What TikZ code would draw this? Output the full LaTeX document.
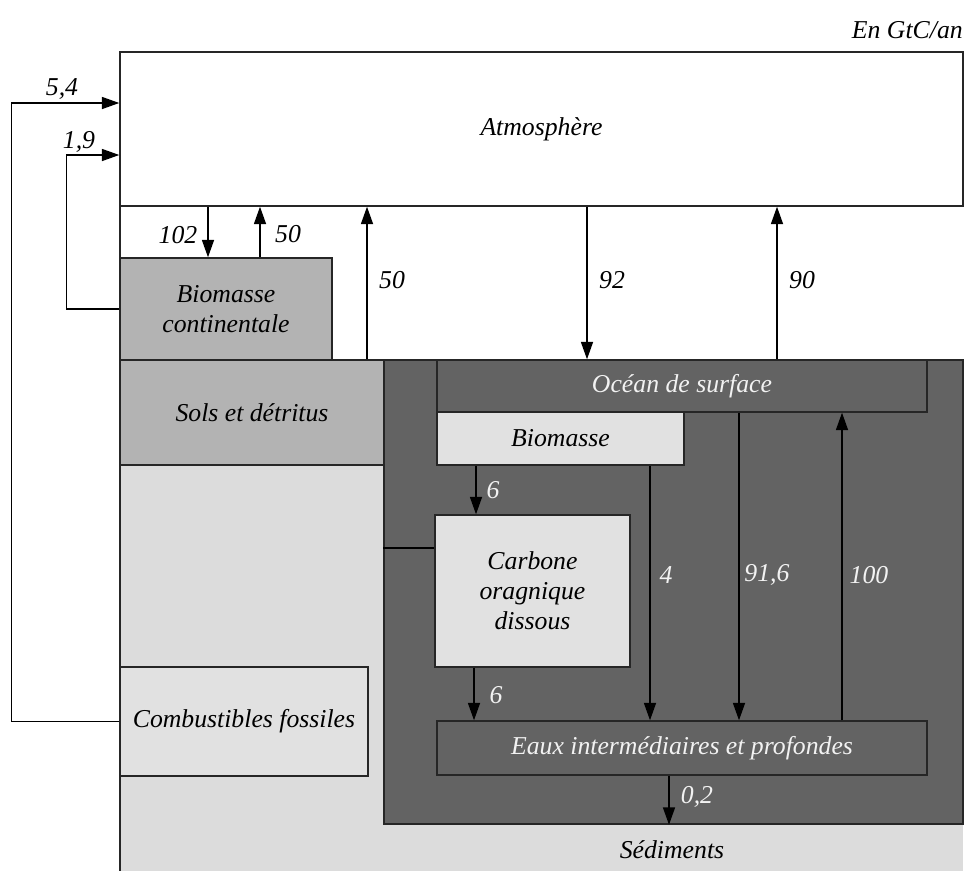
\documentclass[tikz,border=0pt]{standalone}
\usepackage{fontspec}
\setmainfont{Liberation Serif}
\usetikzlibrary{arrows.meta}
\definecolor{gmid}{HTML}{B3B3B3}
\definecolor{glight}{HTML}{DCDCDC}
\definecolor{gpale}{HTML}{E1E1E1}
\definecolor{gdark}{HTML}{636363}
\definecolor{wtxt}{HTML}{F2F2F2}
\begin{document}
\begin{tikzpicture}[x=0.75pt,y=-0.75pt,
  every node/.style={font=\fontsize{19.3}{22.5}\selectfont\itshape},
  box/.style={draw=black!85,line width=1.1pt,inner sep=0pt,align=center},
  arr/.style={draw=black,line width=1.1pt,-{Triangle[length=13pt,width=9pt]}},
  ln/.style={draw=black,line width=1.1pt},
  lab/.style={inner sep=1pt},
  wlab/.style={inner sep=1pt,text=wtxt}]
\useasboundingbox (0,0) rectangle (965,871);
% background regions
\fill[glight] (120,360) rectangle (963,871);
\node[box,fill=white,minimum width=632.25pt,minimum height=115.5pt] (atm) at (541.5,129) {Atmosphère};
\draw[line width=1.1pt,black!85] (120,206) -- (120,871);
\node[box,fill=gdark,minimum width=434.25pt,minimum height=348pt] (ocean) at (673.5,592) {};
\node[box,fill=gmid,minimum width=159pt,minimum height=76.5pt] (biocont) at (226,309) {Biomasse\\continentale};
\node[box,fill=gmid,minimum width=198pt,minimum height=78.75pt] (sols) at (252,412.5) {Sols et détritus};
\node[box,fill=gdark,text=wtxt,minimum width=367.5pt,minimum height=39pt] (surf) at (682,386) {Océan de surface};
\node[box,fill=gpale,minimum width=185.25pt,minimum height=39.75pt] (biooc) at (560.5,438.5) {Biomasse};
\node[box,fill=gpale,minimum width=146.25pt,minimum height=114pt] (cod) at (532.5,591) {Carbone\\oragnique\\dissous};
\node[box,fill=gdark,text=wtxt,minimum width=367.5pt,minimum height=40.5pt] (eaux) at (682,748) {Eaux intermédiaires et profondes};
\node[box,fill=gpale,minimum width=186pt,minimum height=81.75pt] (fossil) at (244,721.5) {Combustibles fossiles};
\node (sedlab) at (672,850) {Sédiments};
\node[anchor=east,inner sep=0pt] (unit) at (963,30) {En GtC/an};
% feedback loops
\draw[arr] (fossil.west) -- ++(-108,0) |- (atm.west |- 0,103);
\draw[arr] (biocont.west) -- ++(-53,0) |- (atm.west |- 0,155);
\node[lab] (l54) at (62,89) {5,4};
\node[lab] (l19) at (79,142) {1,9};
% atmosphere exchanges
\draw[arr] (atm.south -| 208,0) -- (biocont.north -| 208,0);
\node[lab] (l102) at (178,235) {102};
\draw[arr] (biocont.north -| 260,0) -- (atm.south -| 260,0);
\node[lab] (l50a) at (288,234) {50};
\draw[arr] (sols.north -| 367,0) -- (atm.south -| 367,0);
\node[lab] (l50b) at (392,280) {50};
\draw[arr] (atm.south -| 587,0) -- (surf.north -| 587,0);
\node[lab] (l92) at (612,280) {92};
\draw[arr] (surf.north -| 777,0) -- (atm.south -| 777,0);
\node[lab] (l90) at (802,280) {90};
% ocean exchanges
\draw[arr] (biooc.south -| 476,0) -- (cod.north -| 476,0);
\node[wlab] (l6a) at (493,490) {6};
\draw[arr] (cod.south -| 474,0) -- (eaux.north -| 474,0);
\node[wlab] (l6b) at (496,695) {6};
\draw[arr] (biooc.south -| 650,0) -- (eaux.north -| 650,0);
\node[wlab] (l4) at (666,575) {4};
\draw[arr] (surf.south -| 739,0) -- (eaux.north -| 739,0);
\node[wlab] (l916) at (767,575) {91,6};
\draw[arr] (eaux.north -| 842,0) -- (surf.south -| 842,0);
\node[wlab] (l100) at (869,575) {100};
\draw[arr] (eaux.south -| 669,0) -- (ocean.south -| 669,0);
\node[wlab] (l02) at (697,797) {0,2};
\draw[ln] (ocean.west |- 0,548) -- (cod.west |- 0,548);
\end{tikzpicture}
\end{document}
